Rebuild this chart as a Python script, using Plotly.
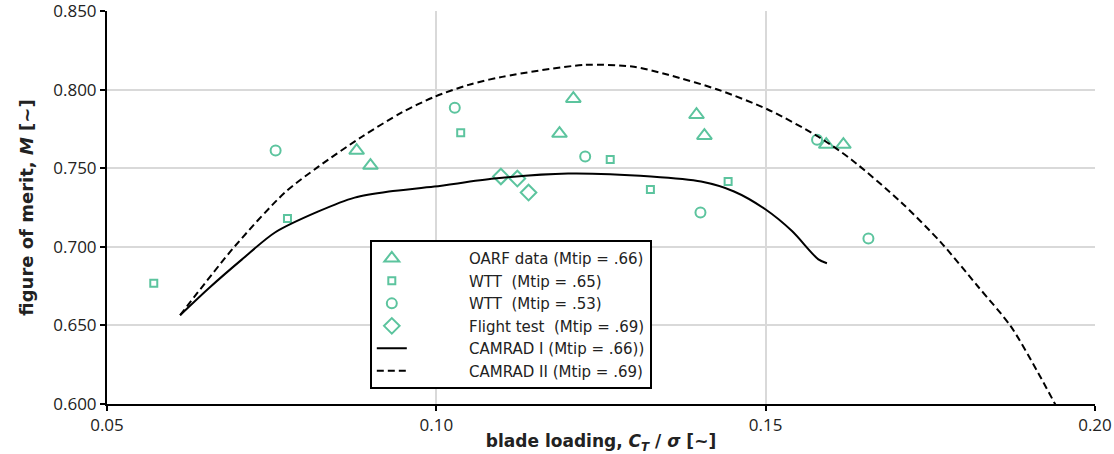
import plotly.graph_objects as go

# ---- data ----
oarf_x = [0.0879, 0.0900, 0.1187, 0.1208, 0.1395, 0.1407, 0.1592, 0.1618]
oarf_y = [0.7612, 0.7517, 0.7720, 0.7942, 0.7840, 0.7707, 0.7650, 0.7650]

wtt65_x = [0.0571, 0.0774, 0.1037, 0.1264, 0.1325, 0.1443]
wtt65_y = [0.6768, 0.7180, 0.7726, 0.7555, 0.7364, 0.7415]

wtt53_x = [0.0756, 0.1028, 0.1226, 0.1401, 0.1578, 0.1656]
wtt53_y = [0.7612, 0.7885, 0.7574, 0.7218, 0.7681, 0.7053]

flight_x = [0.1098, 0.1123, 0.1140]
flight_y = [0.7447, 0.7434, 0.7345]

cam1_x = [0.0611, 0.0655, 0.0705, 0.0755, 0.0821, 0.0876, 0.0928, 0.0997, 0.1088,
          0.1200, 0.1326, 0.1402, 0.1452, 0.1500, 0.1540, 0.1580, 0.1593]
cam1_y = [0.6565, 0.6738, 0.6920, 0.7091, 0.7225, 0.7313, 0.7352, 0.7383, 0.7434,
          0.7466, 0.7447, 0.7415, 0.7352, 0.7237, 0.7100, 0.6920, 0.6895]

cam2_x = [0.0611, 0.0694, 0.0770, 0.0821, 0.0887, 0.0947, 0.0997, 0.1049, 0.1100,
          0.1225, 0.1300, 0.1352, 0.1428, 0.1504, 0.1580, 0.1630, 0.1706, 0.1766,
          0.1822, 0.1872, 0.1913, 0.1941]
cam2_y = [0.6565, 0.7003, 0.7345, 0.7510, 0.7700, 0.7853, 0.7954, 0.8030, 0.8081,
          0.8157, 0.8145, 0.8094, 0.7999, 0.7872, 0.7700, 0.7555, 0.7282, 0.7028,
          0.6749, 0.6495, 0.6203, 0.5987]

x_ticks = [0.05, 0.10, 0.15, 0.20]
y_ticks = [0.600, 0.650, 0.700, 0.750, 0.800, 0.850]

teal = "#5cc49e"
font = "Open Sans, DejaVu Sans, sans-serif"
wide = "DejaVu Sans, sans-serif"
pad = "\u00a0" * 12

fig = go.Figure()
fig.add_trace(go.Scatter(x=oarf_x, y=oarf_y, mode="markers", name=pad + "OARF data (Mtip = .66)",
                         marker=dict(symbol="triangle-up-open", size=13, color=teal, line=dict(width=2, color=teal))))
fig.add_trace(go.Scatter(x=wtt65_x, y=wtt65_y, mode="markers", name=pad + "WTT  (Mtip = .65)",
                         marker=dict(symbol="square-open", size=7, color=teal, line=dict(width=2, color=teal))))
fig.add_trace(go.Scatter(x=wtt53_x, y=wtt53_y, mode="markers", name=pad + "WTT  (Mtip = .53)",
                         marker=dict(symbol="circle-open", size=10, color=teal, line=dict(width=2, color=teal))))
fig.add_trace(go.Scatter(x=flight_x, y=flight_y, mode="markers", name=pad + "Flight test  (Mtip = .69)",
                         marker=dict(symbol="diamond-open", size=12, color=teal, line=dict(width=2, color=teal))))
fig.add_trace(go.Scatter(x=cam1_x, y=cam1_y, mode="lines", name=pad + "CAMRAD I (Mtip = .66))",
                         line=dict(color="black", width=2, shape="spline", smoothing=0.8)))
fig.add_trace(go.Scatter(x=cam2_x, y=cam2_y, mode="lines", name=pad + "CAMRAD II (Mtip = .69)",
                         line=dict(color="black", width=2, dash="7px,4px", shape="spline", smoothing=0.8)))

fig.update_layout(
    width=1114, height=454,
    margin=dict(l=107, r=19, t=11, b=50),
    plot_bgcolor="white", paper_bgcolor="white",
    font=dict(family=font, size=16, color="#222"),
    showlegend=True,
    legend=dict(x=0.266, y=0.417, xanchor="left", yanchor="top",
                bgcolor="white", bordercolor="black", borderwidth=2,
                font=dict(family=wide, size=15, color="#222"), tracegroupgap=0),
)
fig.update_xaxes(
    range=[0.05, 0.20], tickvals=x_ticks, tickformat=".2f",
    showgrid=True, gridcolor="#d9d9d9", gridwidth=2,
    showline=True, linecolor="black", linewidth=2,
    ticks="outside", ticklen=5, tickcolor="black", tickwidth=2,
    zeroline=False, automargin=False, ticklabeloverflow="allow",
    tickfont=dict(family=font, size=17),
    title=dict(text="<b>blade loading, <i>C<sub>T</sub></i> / <i>σ</i> [~]</b>",
               font=dict(family=wide, size=17, color="#222")),
)
fig.update_yaxes(
    range=[0.600, 0.850], tickvals=y_ticks, tickformat=".3f",
    showgrid=True, gridcolor="#d9d9d9", gridwidth=2,
    showline=True, linecolor="black", linewidth=2,
    ticks="outside", ticklen=5, tickcolor="black", tickwidth=2,
    zeroline=False, automargin=False, ticklabeloverflow="allow",
    tickfont=dict(family=font, size=17),
    title=dict(text="<b>figure of merit, <i>M</i> [~]</b>",
               font=dict(family=wide, size=18, color="#222")),
)

fig.write_html("out.html", config={"displayModeBar": False},
               post_script="document.body.style.margin='0';document.body.style.overflow='hidden';")
